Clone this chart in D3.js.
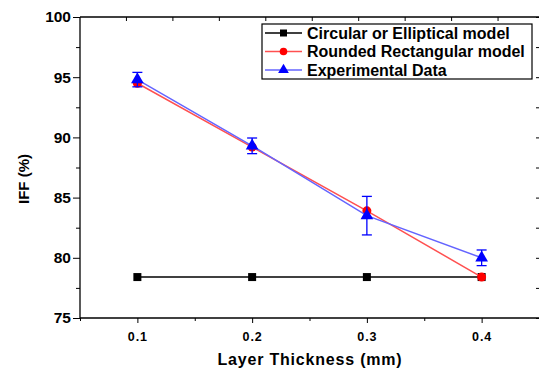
<!DOCTYPE html>
<html><head><meta charset="utf-8">
<script src="https://cdn.jsdelivr.net/npm/d3@7"></script>
<style>body{margin:0;background:#fff}svg{display:block;font-family:Arial,"Liberation Sans",sans-serif}</style>
</head><body>
<svg id="c" width="539" height="370"></svg>
<script>
const thickness = [0.1, 0.2, 0.3, 0.4];
const circularModel = [78.4, 78.4, 78.4, 78.4];
const roundedModel = [94.5, 89.2, 83.9, 78.4];
const experimental = [94.8, 89.3, 83.5, 80.0];
const expError = [0.6, 0.65, 1.6, 0.65];
const xTicks = [0.1, 0.2, 0.3, 0.4];
const xMinorTicks = [0.05, 0.15, 0.25, 0.35, 0.45];
const yTicks = [75, 80, 85, 90, 95, 100];
const yMinorTicks = [77.5, 82.5, 87.5, 92.5, 97.5];
const topTicks = [1, 2, 3, 4, 5, 6, 7, 8, 9];
const seriesNames = ["Circular or Elliptical model", "Rounded Rectangular model", "Experimental Data"];

const svg = d3.select("#c");
const L = 80, R = 539, T = 17, B = 318;
const x = d3.scaleLinear().domain([0.05, 0.45]).range([L, R]);
const y = d3.scaleLinear().domain([75, 100]).range([B, T]);
const xTop = d3.scaleLinear().domain([0, 10]).range([L - 0.5, L + 464]);

const g = svg.append("g");
g.append("line").attr("x1", L).attr("x2", L).attr("y1", T).attr("y2", B).attr("stroke", "#000").attr("stroke-width", 1.3);
g.append("line").attr("x1", L).attr("x2", R).attr("y1", B).attr("y2", B).attr("stroke", "#000").attr("stroke-width", 1.3);
g.append("line").attr("x1", L).attr("x2", R).attr("y1", T).attr("y2", T).attr("stroke", "#000").attr("stroke-width", 1.3);

const yAx = g.append("g").attr("transform", `translate(${L},0)`)
  .call(d3.axisLeft(y).tickValues(yTicks).tickSize(7).tickPadding(2).tickFormat(d3.format("d")));
yAx.select(".domain").remove();
yAx.selectAll("text").attr("font-size", 15.5).attr("font-weight", "bold").attr("fill", "#000").attr("font-family", "Arial");
const yAxm = g.append("g").attr("transform", `translate(${L},0)`)
  .call(d3.axisLeft(y).tickValues(yMinorTicks).tickSize(4).tickFormat(""));
yAxm.select(".domain").remove();
const yR = g.append("g").attr("transform", `translate(${R+1},0)`)
  .call(d3.axisLeft(y).tickValues(yTicks.concat(yMinorTicks)).tickSize(4).tickFormat(""));
yR.select(".domain").remove();

const xAx = g.append("g").attr("transform", `translate(0,${B})`)
  .call(d3.axisBottom(x).tickValues(xTicks).tickSize(5).tickPadding(9).tickFormat(d3.format(".1f")));
xAx.select(".domain").remove();
xAx.selectAll("text").attr("font-size", 12.5).attr("font-weight", "bold").attr("fill", "#000").attr("font-family", "Arial").attr("letter-spacing", "1px");
const xAxm = g.append("g").attr("transform", `translate(0,${B})`)
  .call(d3.axisBottom(x).tickValues(xMinorTicks).tickSize(3).tickFormat(""));
xAxm.select(".domain").remove();
const xT = g.append("g").attr("transform", `translate(0,${T})`)
  .call(d3.axisBottom(xTop).tickValues(topTicks).tickSize(4).tickFormat(""));
xT.select(".domain").remove();

svg.append("text").attr("x", 310).attr("y", 365).attr("text-anchor", "middle")
  .attr("font-size", 16).attr("font-weight", "bold").attr("letter-spacing", "0.8px").text("Layer Thickness (mm)");
svg.append("text").attr("transform", "translate(29,179) rotate(-90)").attr("text-anchor", "middle")
  .attr("font-size", 15).attr("font-weight", "bold").text("IFF (%)");

const line = d3.line().x(d => x(d[0])).y(d => y(d[1]));
const pts = arr => thickness.map((t, i) => [t, arr[i]]);

g.append("path").attr("d", line(pts(circularModel))).attr("fill", "none").attr("stroke", "#000").attr("stroke-width", 1.5);
g.selectAll(".sq").data(pts(circularModel)).enter().append("rect")
  .attr("x", d => x(d[0]) - 4).attr("y", d => y(d[1]) - 4).attr("width", 8).attr("height", 8).attr("fill", "#000");
g.append("path").attr("d", line(pts(roundedModel))).attr("fill", "none").attr("stroke", "#ff5050").attr("stroke-width", 1.5);
g.selectAll(".ci").data(pts(roundedModel)).enter().append("circle")
  .attr("cx", d => x(d[0])).attr("cy", d => y(d[1])).attr("r", 4.5).attr("fill", "#ff0000");
g.append("path").attr("d", line(pts(experimental))).attr("fill", "none").attr("stroke", "#6464ff").attr("stroke-width", 1.5);
const eb = g.selectAll(".eb").data(thickness.map((t, i) => ({t, v: experimental[i], e: expError[i]}))).enter().append("g").attr("stroke", "#0000ff").attr("stroke-width", 1.3);
eb.append("line").attr("x1", d => x(d.t)).attr("x2", d => x(d.t)).attr("y1", d => y(d.v + d.e)).attr("y2", d => y(d.v - d.e));
eb.append("line").attr("x1", d => x(d.t) - 5).attr("x2", d => x(d.t) + 5).attr("y1", d => y(d.v + d.e)).attr("y2", d => y(d.v + d.e));
eb.append("line").attr("x1", d => x(d.t) - 5).attr("x2", d => x(d.t) + 5).attr("y1", d => y(d.v - d.e)).attr("y2", d => y(d.v - d.e));
const tri = d3.symbol().type(d3.symbolTriangle).size(70);
g.selectAll(".tr").data(pts(experimental)).enter().append("path")
  .attr("d", tri).attr("transform", d => `translate(${x(d[0])},${y(d[1])})`).attr("fill", "#0000ff");

const lg = svg.append("g");
lg.append("rect").attr("x", 262).attr("y", 24).attr("width", 270).attr("height", 55).attr("fill", "#fff").attr("stroke", "#000").attr("stroke-width", 1.2);
const lineCols = ["#000", "#ff5050", "#6464ff"];
seriesNames.forEach((name, i) => {
  const yy = 33 + i * 18.5;
  lg.append("line").attr("x1", 265).attr("x2", 302).attr("y1", yy).attr("y2", yy).attr("stroke", lineCols[i]).attr("stroke-width", 1.3);
  if (i === 0) lg.append("rect").attr("x", 280).attr("y", yy - 3.5).attr("width", 7).attr("height", 7).attr("fill", "#000");
  if (i === 1) lg.append("circle").attr("cx", 283.5).attr("cy", yy).attr("r", 3.8).attr("fill", "#ff0000");
  if (i === 2) lg.append("path").attr("d", d3.symbol().type(d3.symbolTriangle).size(50)).attr("transform", `translate(283.5,${yy})`).attr("fill", "#0000ff");
  lg.append("text").attr("x", 307).attr("y", yy + 5.5).attr("font-size", 16).attr("font-weight", "bold").text(name);
});
</script>
</body></html>
